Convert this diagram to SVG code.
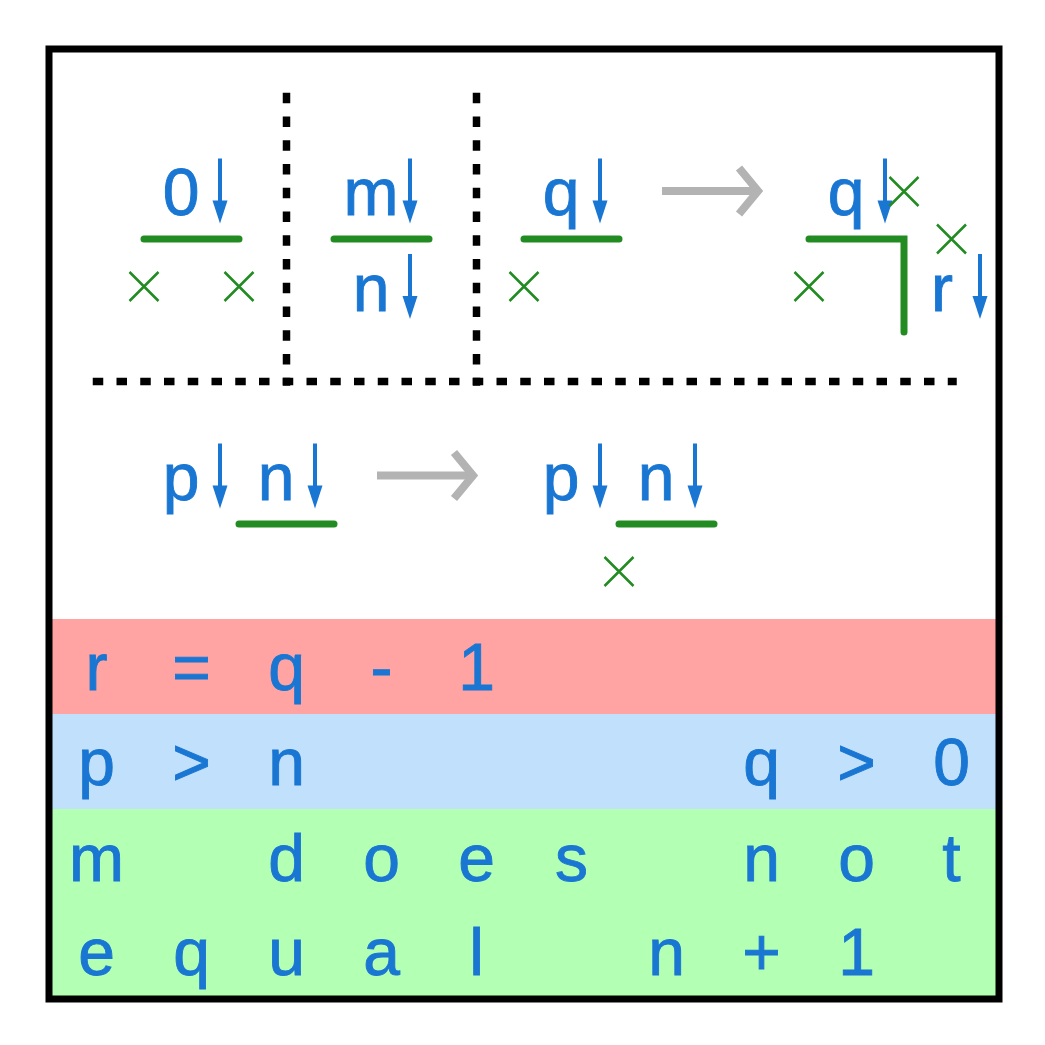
<svg xmlns="http://www.w3.org/2000/svg" xmlns:xlink="http://www.w3.org/1999/xlink" width="1045" height="1045" viewBox="0 0 1045 1045">
<style>
.t{font-family:"Liberation Sans",Arial,sans-serif;font-size:66px;fill:#1976d2;stroke:#1976d2;stroke-width:0.9;text-anchor:middle}
.g{stroke:#228b22;stroke-width:7;stroke-linecap:round;fill:none}
.x{stroke:#228b22;stroke-width:2.5;fill:none}
.dot{stroke:#000;stroke-width:7.5;stroke-linecap:square;stroke-dasharray:3 20.75;fill:none}
.ga{stroke:#b3b3b3;stroke-width:8;fill:none}
</style>
<defs>
<g id="da"><line x1="0" y1="0" x2="0" y2="46" stroke="#1976d2" stroke-width="4"/><polygon points="-7.5,42 7.5,42 0,65" fill="#1976d2"/></g>
<path id="cx" d="M-14.5,-14.5L14.5,14.5M-14.5,14.5L14.5,-14.5"/>
</defs>
<rect x="0" y="0" width="1045" height="1045" fill="#fff"/>
<g id="bands">
<rect x="49" y="619" width="950" height="95" fill="#ffa3a3"/>
<rect x="49" y="714" width="950" height="95" fill="#c0e0fc"/>
<rect x="49" y="809" width="950" height="190" fill="#b3ffb3"/>
<text class="t" x="96.5 191.5 286.5 381.5 476.5" y="690">r=q-1</text>
<text class="t" x="96.5 191.5 286.5" y="785">p&gt;n</text>
<text class="t" x="761.5 856.5 951.5" y="785">q&gt;0</text>
<text class="t" x="96.5" y="881">m</text>
<text class="t" x="286.5 381.5 476.5 571.5" y="881">does</text>
<text class="t" x="761.5 856.5 951.5" y="881">not</text>
<text class="t" x="96.5 191.5 286.5 381.5 476.5" y="975">equal</text>
<text class="t" x="666.5 761.5 856.5" y="975">n+1</text>
</g>
<g id="dividers">
<line class="dot" x1="286.5" y1="96.5" x2="286.5" y2="382"/>
<line class="dot" x1="476.5" y1="96.5" x2="476.5" y2="382"/>
<line class="dot" x1="96.5" y1="381.5" x2="953" y2="381.5"/>
</g>
<g id="n-zero">
<text class="t" x="181" y="215">0</text>
<use xlink:href="#da" href="#da" x="220" y="158.5"/>
<line class="g" x1="144" y1="239" x2="239" y2="239"/>
<use xlink:href="#cx" href="#cx" class="x" x="144" y="286.5"/>
<use xlink:href="#cx" href="#cx" class="x" x="239" y="286.5"/>
</g>
<g id="n-mn">
<text class="t" x="371" y="215">m</text>
<use xlink:href="#da" href="#da" x="410" y="158.5"/>
<line class="g" x1="334" y1="239" x2="429" y2="239"/>
<text class="t" x="371" y="311">n</text>
<use xlink:href="#da" href="#da" x="410" y="254"/>
</g>
<g id="n-q-before">
<text class="t" x="561" y="215">q</text>
<use xlink:href="#da" href="#da" x="600" y="158.5"/>
<line class="g" x1="524" y1="239" x2="619" y2="239"/>
<use xlink:href="#cx" href="#cx" class="x" x="524" y="286.5"/>
</g>
<g id="n-q-after">
<text class="t" x="846" y="215">q</text>
<use xlink:href="#da" href="#da" x="885" y="158.5"/>
<polyline class="g" points="809,239 904,239 904,332" stroke-linejoin="miter"/>
<use xlink:href="#cx" href="#cx" class="x" x="809" y="286.5"/>
<use xlink:href="#cx" href="#cx" class="x" x="904" y="191.5"/>
<use xlink:href="#cx" href="#cx" class="x" x="951.5" y="239"/>
<text class="t" x="942" y="311">r</text>
<use xlink:href="#da" href="#da" x="980" y="254"/>
</g>
<g id="n-pn-before">
<text class="t" x="181" y="500">p</text>
<use xlink:href="#da" href="#da" x="220" y="443.5"/>
<text class="t" x="276" y="500">n</text>
<use xlink:href="#da" href="#da" x="315" y="443.5"/>
<line class="g" x1="239" y1="524" x2="334" y2="524"/>
</g>
<g id="n-pn-after">
<text class="t" x="561" y="500">p</text>
<use xlink:href="#da" href="#da" x="600" y="443.5"/>
<text class="t" x="656" y="500">n</text>
<use xlink:href="#da" href="#da" x="695" y="443.5"/>
<line class="g" x1="619" y1="524" x2="714" y2="524"/>
<use xlink:href="#cx" href="#cx" class="x" x="619" y="571.5"/>
</g>
<g id="connectors">
<line class="ga" x1="662" y1="191" x2="756" y2="191"/>
<polyline class="ga" points="739,168 758,191 739,214"/>
<line class="ga" x1="377" y1="475.5" x2="471" y2="475.5"/>
<polyline class="ga" points="454,452.5 473,475.5 454,498.5"/>
</g>
<rect id="frame" x="49" y="49" width="950" height="950" fill="none" stroke="#000" stroke-width="7"/>
</svg>
